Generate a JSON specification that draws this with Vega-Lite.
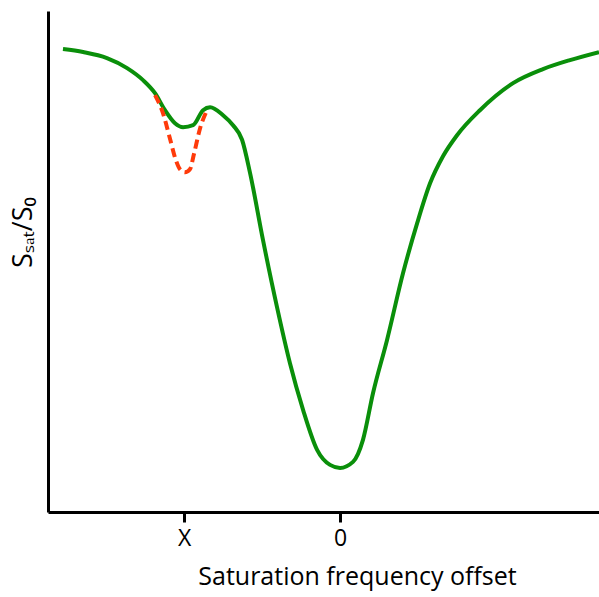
{
  "$schema": "https://vega.github.io/schema/vega-lite/v6.json",
  "width": 551,
  "height": 501,
  "autosize": {"type": "none"},
  "padding": {"left": 48, "top": 11, "right": 0, "bottom": 85},
  "background": "white",
  "config": {
    "view": {"stroke": null},
    "font": "Open Sans"
  },
  "layer": [
    {
      "data": {"values": [
        {"x": -1.776, "y": 92.4}, {"x": -1.647, "y": 91.8}, {"x": -1.494, "y": 90.6},
        {"x": -1.365, "y": 88.6}, {"x": -1.263, "y": 86.2}, {"x": -1.186, "y": 83.6},
        {"x": -1.122, "y": 80.2}, {"x": -1.058, "y": 77.6}, {"x": -1.006, "y": 76.8},
        {"x": -0.942, "y": 77.2}, {"x": -0.878, "y": 80.2}, {"x": -0.833, "y": 80.8},
        {"x": -0.750, "y": 79.2}, {"x": -0.686, "y": 77.2}, {"x": -0.628, "y": 74.3},
        {"x": -0.577, "y": 67.7}, {"x": -0.494, "y": 54.3}, {"x": -0.404, "y": 40.9},
        {"x": -0.321, "y": 29.7}, {"x": -0.237, "y": 20.4}, {"x": -0.147, "y": 12.4},
        {"x": -0.064, "y": 9.4}, {"x": 0.0, "y": 8.8}, {"x": 0.083, "y": 10.0},
        {"x": 0.147, "y": 14.4}, {"x": 0.212, "y": 23.8}, {"x": 0.301, "y": 34.3},
        {"x": 0.404, "y": 47.7}, {"x": 0.494, "y": 57.6}, {"x": 0.577, "y": 65.6},
        {"x": 0.660, "y": 71.0}, {"x": 0.750, "y": 75.2}, {"x": 0.897, "y": 80.2},
        {"x": 1.109, "y": 85.6}, {"x": 1.301, "y": 88.4}, {"x": 1.474, "y": 90.2},
        {"x": 1.660, "y": 91.8}
      ]},
      "mark": {"type": "line", "interpolate": "monotone", "color": "#0a8f0a", "strokeWidth": 4, "clip": false},
      "encoding": {
        "x": {
          "field": "x", "type": "quantitative",
          "scale": {"domain": [-1.872, 1.66], "nice": false, "zero": false},
          "axis": {
            "title": "Saturation frequency offset",
            "values": [-1, 0],
            "labelExpr": "datum.value == -1 ? 'X' : '0'",
            "grid": false,
            "domainColor": "black", "domainWidth": 3,
            "tickColor": "black", "tickWidth": 3, "tickSize": 10,
            "labelFontSize": 23, "labelColor": "black", "labelPadding": 5,
            "titleFontSize": 25, "titleFontWeight": "normal", "titleColor": "black",
            "titlePadding": 14,
            "titleX": 309, "titleAlign": "center"
          }
        },
        "y": {
          "field": "y", "type": "quantitative",
          "scale": {"domain": [0, 100], "nice": false, "zero": false},
          "axis": {
            "title": "Sₛₐₜ/S₀",
            "values": [],
            "ticks": false, "labels": false, "grid": false,
            "domainColor": "black", "domainWidth": 3,
            "titleFontSize": 27, "titleFontWeight": "normal", "titleColor": "black",
            "titleY": 221, "titleX": -25, "titleAngle": -90, "titleBaseline": "middle", "titleAlign": "center"
          }
        }
      }
    },
    {
      "data": {"values": [
        {"x": -1.186, "y": 83.2}, {"x": -1.135, "y": 79.6}, {"x": -1.090, "y": 74.5},
        {"x": -1.051, "y": 70.1}, {"x": -1.026, "y": 68.4}, {"x": -0.994, "y": 67.8},
        {"x": -0.962, "y": 68.4}, {"x": -0.936, "y": 71.5}, {"x": -0.897, "y": 76.6},
        {"x": -0.853, "y": 80.2}
      ]},
      "mark": {"type": "line", "interpolate": "monotone", "color": "#ff3a0a", "strokeWidth": 4, "strokeDash": [9, 5]},
      "encoding": {
        "x": {"field": "x", "type": "quantitative"},
        "y": {"field": "y", "type": "quantitative"}
      }
    }
  ]
}
